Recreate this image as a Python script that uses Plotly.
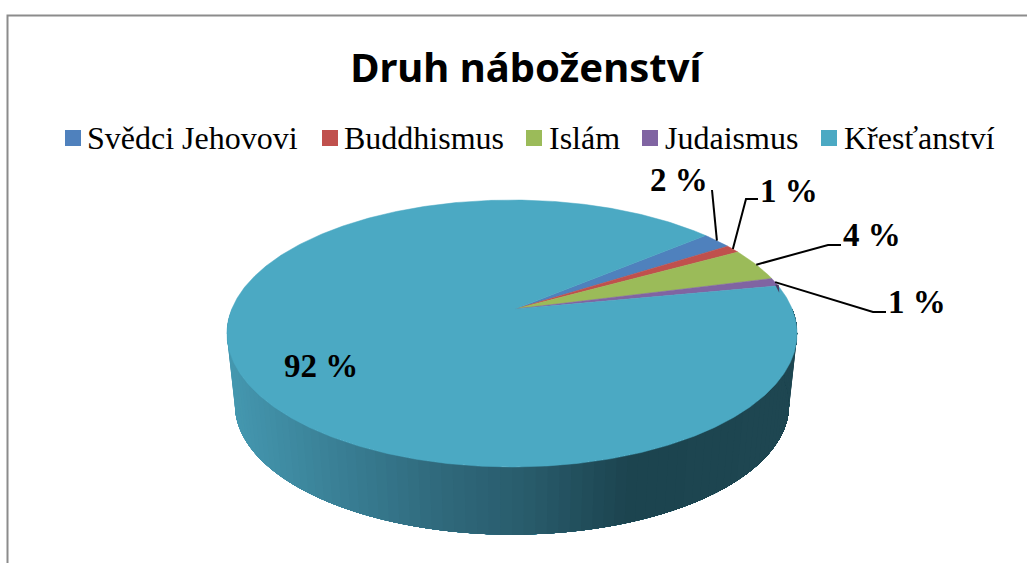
import numpy as np
import plotly.graph_objects as go

categories = ["Svědci Jehovovi", "Buddhismus", "Islám", "Judaismus", "Křesťanství"]
values = [2, 1, 4, 1, 92]
labels = ["2 %", "1 %", "4 %", "1 %", "92 %"]
colors = ["#4F81BD", "#C0504D", "#9BBB59", "#8064A2", "#4BA9C3"]

START = 39.5      # first slice edge, degrees, running clockwise
CX, APEX_Y, A, B, K = 512.0, 309.0, 280.2, 129.0, 0.1835
DEPTH_Y, DEPTH_S = 72.0, 0.972


def rim(deg, scale=1.0, dy=0.0):
    t = np.radians(deg)
    d = 1 + K * np.sin(t)
    return CX + scale * A * np.cos(t) / d, APEX_Y + dy - scale * B * np.sin(t) / d


def side_color(x):
    stops_x = [227, 330, 430, 520, 625, 800]
    stops = [(0x45, 0x98, 0xB0), (0x3A, 0x80, 0x96), (0x30, 0x6A, 0x7D),
             (0x29, 0x5C, 0x6C), (0x1C, 0x44, 0x4F), (0x1F, 0x47, 0x52)]
    c = [int(np.interp(x, stops_x, [s[i] for s in stops])) for i in range(3)]
    return f"rgb({c[0]},{c[1]},{c[2]})"


fig = go.Figure()

# side wall of the disc: painted left to right, each band reaching the far end so no seams show
for a0 in np.arange(180, 360, 2.0):
    deg = np.linspace(a0, 360, max(int(360 - a0), 4))
    tx, ty = rim(deg)
    bx, by = rim(deg, DEPTH_S, DEPTH_Y)
    col = side_color(float(tx[0]))
    fig.add_trace(go.Scatter(
        x=np.r_[tx, bx[::-1]], y=np.r_[ty, by[::-1]], mode="none", fill="toself",
        fillcolor=col, showlegend=False, hoverinfo="skip"))

# top face, one wedge per value
edges = START - np.cumsum([0] + values) * 3.6
mids = (edges[:-1] + edges[1:]) / 2
for name, col, a0, a1, v in zip(categories, colors, edges[:-1], edges[1:], values):
    deg = np.linspace(a0, a1, max(int(abs(a0 - a1)) * 2, 6))
    px, py = rim(deg)
    fig.add_trace(go.Scatter(
        x=np.r_[CX + 3, px, CX + 3], y=np.r_[APEX_Y, py, APEX_Y], mode="lines", fill="toself",
        fillcolor=col, line=dict(color=col, width=0.5), showlegend=False,
        name=name, text=f"{v} %", hoverinfo="name+text"))

# small cut face seen behind the purple wedge
fx, fy = rim(edges[4])
fig.add_trace(go.Scatter(x=[fx - 3, fx + 0.5, fx + 1], y=[fy - 1, fy - 1, fy + 7], mode="lines",
                         fill="toself", fillcolor="#4A3A60", line=dict(color="#4A3A60", width=0),
                         showlegend=False, hoverinfo="skip"))

# legend row: swatch centre x and text start x for each entry
legend_swatch_x = [73, 330, 534, 650, 829]
legend_text_x = [88, 345, 550, 666, 845]
LEGEND_Y = 138
fig.add_trace(go.Scatter(x=legend_swatch_x, y=[LEGEND_Y] * 5, mode="markers", showlegend=False,
                         marker=dict(symbol="square", size=16, color=colors), hoverinfo="skip"))

# leader lines: elbow positions in chart space, start on the rim at the wedge's middle
elbows = [[(712, 190)], [(746, 199), (758, 199)], [(828, 245), (841, 245)], [(873, 312), (886, 312)]]
for mid, pts in zip(mids[:4], elbows):
    sx, sy = rim(mid)
    fig.add_trace(go.Scatter(x=[sx] + [p[0] for p in pts], y=[sy] + [p[1] for p in pts], mode="lines",
                             line=dict(color="black", width=2), showlegend=False, hoverinfo="skip"))

label_pos = [(679, 180), (789, 191), (872, 235), (917, 302), (321, 366)]
annotations = [dict(x=x, y=y, text=f"<b>{t}</b>", showarrow=False, xref="x", yref="y",
                    font=dict(family="Liberation Serif", size=33, color="black"))
               for t, (x, y) in zip(labels, label_pos)]
annotations += [dict(x=x, y=LEGEND_Y, text=t, showarrow=False, xref="x", yref="y", xanchor="left",
                     xshift=-3, font=dict(family="Liberation Serif", size=32, color="black"))
                for t, x in zip(categories, legend_text_x)]

fig.update_layout(
    width=1027, height=563, margin=dict(l=0, r=0, t=0, b=0),
    paper_bgcolor="white", plot_bgcolor="white",
    xaxis=dict(range=[0, 1027], visible=False, fixedrange=True),
    yaxis=dict(range=[563, 0], visible=False, fixedrange=True),
    title=dict(text="<b>Druh náboženství</b>", x=0.512, xanchor="center", y=0.88, yanchor="middle",
               font=dict(family="Noto Sans", size=40, color="black")),
    annotations=annotations,
    shapes=[dict(type="path", path="M 7.5 563 L 7.5 15.5 L 1027 15.5", xref="x", yref="y",
                 line=dict(color="#8C8C8C", width=2))],
)
fig.write_html("out.html", config={"displayModeBar": False},
               post_script="document.body.style.margin='0';")
